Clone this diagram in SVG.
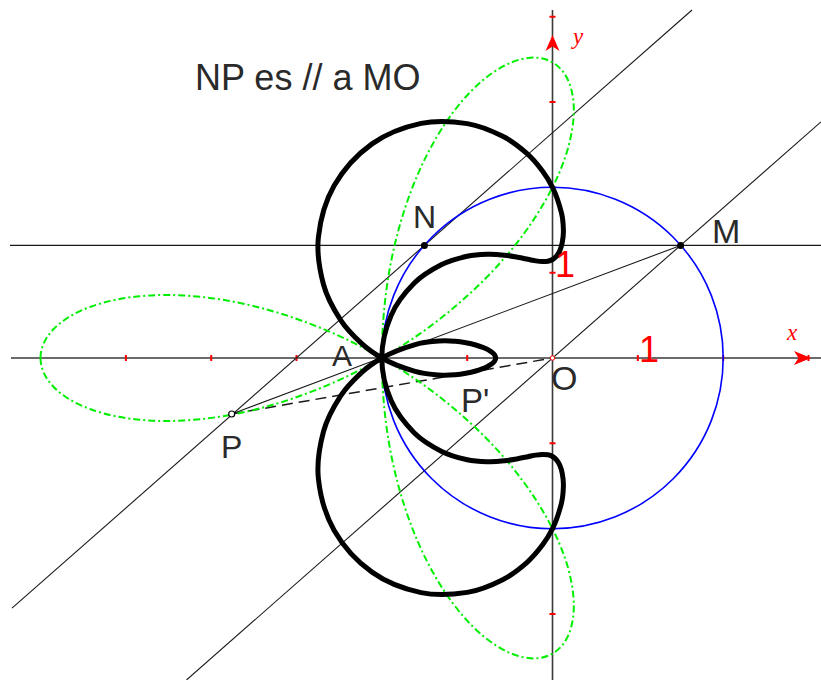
<svg xmlns="http://www.w3.org/2000/svg" xmlns:xlink="http://www.w3.org/1999/xlink" width="821" height="680" viewBox="0 0 821 680">
<style>
.axis{stroke:#3a3a3a;stroke-width:1.6;fill:none}
.thin{stroke:#1a1a1a;stroke-width:1.1;fill:none}
.dash{stroke:#1a1a1a;stroke-width:1.5;fill:none;stroke-dasharray:11 6}
.circ{stroke:#0000ff;stroke-width:1.6;fill:none}
.green{stroke:#00ee00;stroke-width:2;fill:none;stroke-dasharray:7 3 2 3}
.black{stroke:#000;stroke-width:5;fill:none;stroke-linejoin:round;stroke-linecap:round}
.tick{stroke:#ff0000;stroke-width:2;fill:none}
.red{fill:#ff0000}
.lbl{font-family:"Liberation Sans",Arial,sans-serif;fill:#2a2a2a}
.num{font-family:"Liberation Sans",Arial,sans-serif;fill:#ff0000;font-size:36px}
.ax{font-family:"Liberation Serif","Times New Roman",serif;font-style:italic;fill:#ff0000;font-size:23px}
</style>
<defs>
<path id="blackHalf" class="black" d="M495.6,358 C495.6,358.57 495.52,359.13 495.3,359.7 C495.08,360.27 494.73,360.83 494.3,361.4 C493.87,361.97 493.38,362.52 492.7,363.1 C492.02,363.68 491.2,364.27 490.2,364.9 C489.2,365.53 488.05,366.23 486.7,366.9 C485.35,367.57 483.93,368.22 482.1,368.9 C480.27,369.58 478.18,370.32 475.7,371 C473.22,371.68 470.58,372.38 467.2,373 C463.82,373.62 460.12,374.38 455.4,374.7 C450.68,375.02 445.6,375.45 438.9,374.9 C432.2,374.35 424.72,374.22 415.2,371.4 C405.68,368.58 394.7,365.45 381.8,358 C375.35,354.27 368.38,349.75 361.5,343.4 C354.62,337.05 346.83,329.72 340.5,319.9 C334.17,310.08 327.18,298.27 323.5,284.5 C319.82,270.73 316.62,253.78 318.4,237.3 C320.18,220.82 325.27,201.17 334.2,185.6 C343.13,170.03 357.52,154.27 372,143.9 C386.48,133.53 405.23,126.78 421.1,123.4 C436.97,120.02 453.6,121.45 467.2,123.6 C480.8,125.75 492.72,131.28 502.7,136.3 C512.68,141.32 520.42,147.85 527.1,153.7 C533.78,159.55 538.57,165.8 542.8,171.4 C547.03,177 550.02,182.33 552.5,187.3 C557.47,197.23 559.58,205.53 561.4,212.7 C563.22,219.87 563.25,225.35 563.4,230.3 C563.55,235.25 562.9,239 562.3,242.4 C561.7,245.8 560.77,248.42 559.8,250.7 C558.83,252.98 557.72,254.63 556.5,256.1 C555.28,257.57 553.93,258.65 552.5,259.5 C551.07,260.35 549.58,260.85 547.9,261.2 C546.22,261.55 544.42,261.65 542.4,261.6 C540.38,261.55 538.23,261.28 535.8,260.9 C533.37,260.52 530.82,259.9 527.8,259.3 C524.78,258.7 521.53,257.98 517.7,257.3 C513.87,256.62 509.72,255.7 504.8,255.2 C499.88,254.7 494.47,254.12 488.2,254.3 C481.93,254.48 474.95,254.58 467.2,256.3 C459.45,258.02 450.55,260.1 441.7,264.6 C432.85,269.1 422.53,274.83 414.1,283.3 C405.67,291.77 396.48,302.95 391.1,315.4 C385.72,327.85 381.8,343.1 381.8,358"/>
<path id="greenHalf" class="green" d="M40.5,358 C40.5,362.93 41.65,368.02 43.8,372.8 C45.95,377.58 49.17,382.3 53.4,386.7 C57.63,391.1 62.98,395.43 69.2,399.2 C75.42,402.97 82.65,406.4 90.7,409.3 C98.75,412.2 107.83,414.73 117.5,416.6 C127.17,418.47 137.67,419.85 148.7,420.5 C159.73,421.15 171.57,421.18 183.7,420.5 C195.83,419.82 208.58,418.48 221.5,416.4 C234.42,414.32 247.82,411.52 261.2,408 C274.58,404.48 288.28,400.2 301.8,395.3 C315.32,390.4 328.97,384.82 342.3,378.6 C355.63,372.38 368.9,365.45 381.8,358 C394.7,350.55 407.33,342.55 419.4,334.1 C431.47,325.65 443.18,316.57 454.2,307.3 C465.22,298.03 475.77,288.33 485.5,278.5 C495.23,268.67 504.35,258.45 512.6,248.3 C520.85,238.15 528.35,227.77 535,217.6 C541.65,207.43 547.53,197.17 552.5,187.3 C557.47,177.43 561.58,167.68 564.8,158.4 C568.02,149.12 570.3,140.03 571.8,131.6 C573.3,123.17 573.95,115.08 573.8,107.8 C573.65,100.52 572.58,93.77 570.9,87.9 C569.22,82.03 566.77,76.85 563.7,72.6 C560.63,68.35 556.77,64.87 552.5,62.4 C548.23,59.93 543.32,58.33 538.1,57.8 C532.88,57.27 527.13,57.72 521.2,59.2 C515.27,60.68 508.88,63.2 502.5,66.7 C496.12,70.2 489.43,74.7 482.9,80.2 C476.37,85.7 469.73,92.25 463.3,99.7 C456.87,107.15 450.38,115.67 444.3,124.9 C438.22,134.13 432.27,144.27 426.8,155.1 C421.33,165.93 416.15,177.67 411.5,189.9 C406.85,202.13 402.57,215.15 398.9,228.5 C395.23,241.85 392.02,255.83 389.5,270 C386.98,284.17 385.08,298.83 383.8,313.5 C382.52,328.17 381.8,343.11 381.8,358"/>
</defs>
<rect width="821" height="680" fill="#ffffff"/>
<g id="axes">
<line class="axis" x1="11" y1="358" x2="821" y2="358"/>
<line class="axis" x1="552.5" y1="10" x2="552.5" y2="680"/>
<path class="tick" d="M125.9,355V361M211.2,355V361M296.5,355V361M381.8,355V361M467.2,355V361M637.8,355V361M723.2,355V361M808.5,355V361M549.5,16.7H555.5M549.5,102H555.5M549.5,187.3H555.5M549.5,272.7H555.5M549.5,443.3H555.5M549.5,528.7H555.5M549.5,614H555.5"/>
</g>
<g id="connectors">
<line class="thin" x1="10" y1="245.4" x2="821" y2="245.4"/>
<line class="thin" x1="186.5" y1="680" x2="821" y2="121.8"/>
<line class="thin" x1="12" y1="608.2" x2="692" y2="10"/>
<line class="thin" x1="231.7" y1="414" x2="680.6" y2="245.4"/>
<line class="dash" x1="231.7" y1="414" x2="552.5" y2="358"/>
</g>
<g id="circle"><circle class="circ" cx="552.5" cy="358" r="170.7"/></g>
<g id="locusP">
<use xlink:href="#greenHalf"/>
<use xlink:href="#greenHalf" transform="matrix(1 0 0 -1 0 716)"/>
</g>
<g id="locusPprime">
<use xlink:href="#blackHalf"/>
<use xlink:href="#blackHalf" transform="matrix(1 0 0 -1 0 716)"/>
</g>
<g id="axisLabels">
<path class="red" d="M811,358 L794,351 L798.5,358 L794,365 Z"/>
<path class="red" d="M552.5,35 L545.5,51 L552.5,46.5 L559.5,51 Z"/>
<text class="ax" x="787" y="340">x</text>
<text class="ax" x="573" y="44">y</text>
<text class="num" x="639" y="362">1</text>
<text class="num" x="555" y="277">1</text>
</g>
<g id="N"><circle cx="424.4" cy="245.4" r="3.5" fill="#000"/><text class="lbl" x="413" y="228" font-size="32">N</text></g>
<g id="M"><circle cx="680.6" cy="245.4" r="3.5" fill="#000"/><text class="lbl" x="712" y="243" font-size="34">M</text></g>
<g id="P"><circle cx="231.7" cy="414" r="3" fill="#fff" stroke="#000" stroke-width="1.2"/><text class="lbl" x="221" y="458" font-size="32">P</text></g>
<g id="Pp"><text class="lbl" x="461" y="412" font-size="33">P'</text></g>
<g id="A"><text class="lbl" x="332" y="366" font-size="30">A</text></g>
<g id="O"><circle cx="552.5" cy="358" r="2.2" fill="#fff" stroke="#ff0000" stroke-width="1"/><text class="lbl" x="551" y="390" font-size="34">O</text></g>
<g id="title"><text class="lbl" x="195" y="90" font-size="36">NP es // a MO</text></g>
</svg>
